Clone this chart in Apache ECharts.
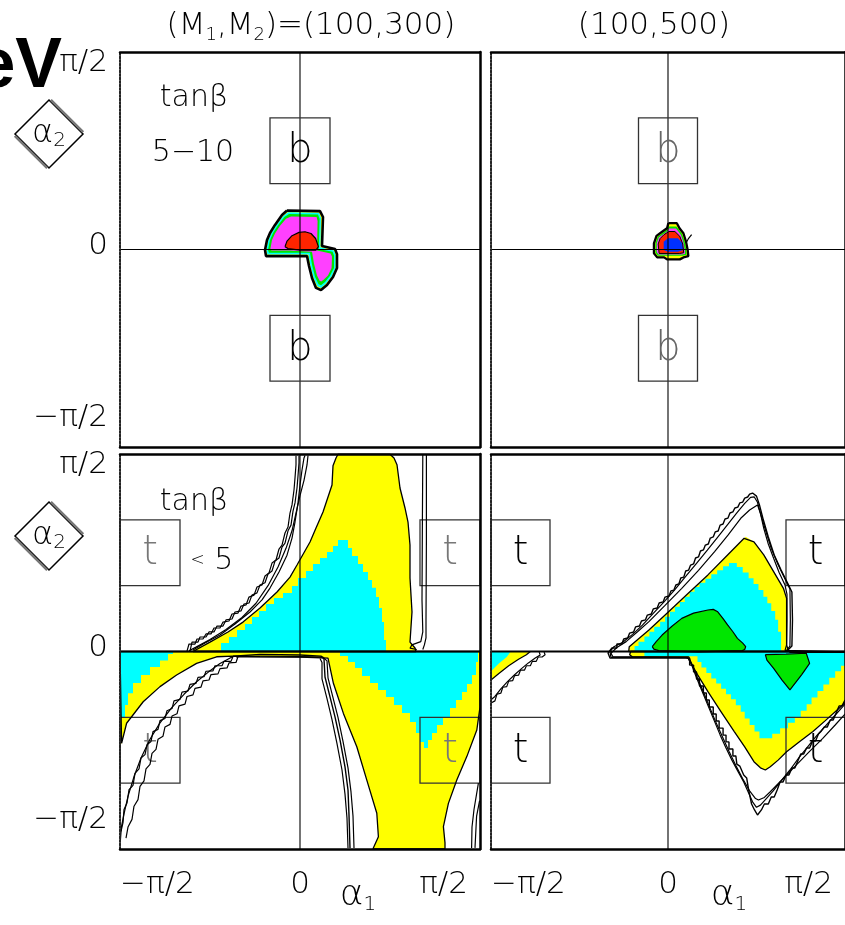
<!DOCTYPE html>
<html>
<head>
<meta charset="utf-8">
<title>Allowed (α1, α2) regions</title>
<script src="https://cdn.jsdelivr.net/npm/echarts@6.0.0/dist/echarts.min.js"></script>
<style>
html, body { margin: 0; padding: 0; background: #fff; }
#chart { width: 845px; height: 925px; }
</style>
</head>
<body>
<div id="chart"></div>
<script>
// Angles are stored in degrees; the axes run from −π/2 to π/2.
const angleTicks = [-90, 0, 90];
const angleTickText = ['−π/2', '0', 'π/2'];

// Panel headings and in-panel notes
const titleLeftParts = ['(M', '1', ',M', '2', ')=(100,300)'];
const titleRight = '(100,500)';
const tanbTop = ['tanβ', '5−10'];
const tanbBottom = ['tanβ', '<', '5'];

// Reference boxes (centres, degrees)
const bBoxCenters = [[0, 45], [0, -45]];
const tBoxCenters = [[-75, 45], [75, 45], [-75, -45], [75, -45]];

// Panel crosshairs
const crossV = [[0, -90], [0, 90]];
const crossH = [[-90, 0], [90, 0]];

// ---------- (100,300), tanβ 5–10 ----------
const tlYellow = [[-6.5,17.8],[10,17.5],[11.5,14.8],[11,1.6],[17.5,0.2],[18.5,-2.1],[18.5,-8.4],[16.5,-12.5],[13.5,-16.2],[10.5,-18.5],[8,-17.5],[6,-13.0],[4.5,-7.5],[3.5,-3.0],[-5,-3.0],[-17,-3.0],[-17.5,-0.2],[-16.5,4.3],[-15,7.5],[-12.5,11.2],[-9,15.7]];
const tlCyan = [[-6,17],[9.5,16.8],[10.5,14.5],[10.2,1],[17,-0.5],[17.8,-2.5],[17.8,-8.4],[15.8,-12.3],[13,-15.5],[10.5,-17.5],[8.7,-16.8],[6.7,-12.7],[5.2,-7.3],[4.2,-2.3],[-5,-2.3],[-16.3,-2.3],[-16.8,-0.2],[-15.8,4.3],[-14.3,7.5],[-11.8,11.2],[-8.4,15.3]];
const tlGreen = [[-5.5,16.2],[9,16],[9.8,14],[9.4,0.2],[16.3,-1],[17,-2.7],[17,-8.4],[15,-12],[12.5,-14.8],[10.5,-16.3],[9.3,-15.8],[7.5,-12.4],[6,-7],[5,-1.5],[-5,-1.5],[-15.5,-1.5],[-16,-0.2],[-15,4.3],[-13.5,7.5],[-11,11],[-7.8,14.8]];
const tlMagenta = [[-4.5,15],[8.3,14.8],[8.8,13],[8.5,-0.5],[15.3,-1.8],[16,-3.2],[15.8,-8.4],[14,-11.8],[11.8,-13.8],[10.6,-14.6],[9.8,-14.2],[8.5,-11.8],[7,-6.5],[6,-1],[-5,-0.5],[-14.3,-0.5],[-14.8,0.3],[-14,4.3],[-12.5,7.3],[-10,10.8],[-7,14]];
const tlRed = [[-7.5,1.3],[-6.5,3.8],[-4,6.3],[-0.5,7.8],[2.5,8.1],[5.5,7.3],[7.8,5],[9.2,1.3],[8,-0.3],[0,-0.3],[-6,0.4]];

// ---------- (100,500), tanβ 5–10 ----------
const trYellow = [[0.2,12],[4.5,12],[5.85,9.7],[7.85,7.4],[9.15,3.6],[10,-0.2],[10.35,-3.0],[7.85,-3.6],[6,-4.5],[-0.5,-4.5],[-2,-3.6],[-5.5,-3.6],[-7.15,-1.7],[-7.15,2.8],[-5.85,6.2],[-3,8.1],[-0.5,9.7]];
const trGreen = [[0.4,10.5],[4.3,10.5],[5.4,9.2],[7.2,7.1],[8.5,3.5],[9.3,-0.2],[9.5,-2.4],[7.5,-2.9],[-5.2,-2.9],[-6.4,-1.4],[-6.4,2.8],[-5.2,5.9],[-2.6,7.6],[-0.3,9.1]];
const trMagenta = [[0.5,9.6],[4,9.6],[5,8.5],[6.6,6.6],[7.8,3.3],[8.5,-0.1],[8.7,-1.9],[7,-2.3],[-4.8,-2.3],[-5.7,-1.1],[-5.7,2.8],[-4.6,5.6],[-2.2,7.1],[0,8.5]];
const trRed = [[0.5,8.2],[3.5,8.2],[6,6],[7.5,2.5],[8,-1.5],[6,-1.8],[-4.5,-1.8],[-5,2.5],[-4,5],[-2,6.8]];
const trBlue = [[-2.2,-0.2],[-2.2,3.5],[0,5.1],[5,5.1],[7.3,3],[7.8,-0.2],[5,-1],[0,-1]];
const trTail = [[9.5,3.5],[10.5,5.1],[12,6.8]];

// ---------- (100,300), tanβ < 5 ----------
const blUpYellow = [[-53.5,0],[-53.5,0.7],[-45,4.3],[-36,8.9],[-28.5,13.4],[-20,19.8],[-11.5,27.1],[-5,33.9],[-1.5,39.4],[5,49.9],[8,56.3],[11.5,63.6],[14,70.4],[16,75.9],[16.5,84.6],[18,88.2],[19,89.9],[45,89.9],[47,88.2],[48.5,85.1],[50,74.5],[52.5,65.4],[54,59.0],[55,48.5],[55,33.5],[56,18.0],[55,4.3],[57.5,1.6],[58,0]];
const blUpCyan = [[-39.5,0],[-39.5,3.9],[-35.5,3.9],[-35.5,6.6],[-31.5,6.6],[-31.5,9.8],[-27.5,9.8],[-27.5,12.5],[-24,12.5],[-24,15.7],[-20.5,15.7],[-20.5,18.5],[-17,18.5],[-17,21.6],[-13,21.6],[-13,24.4],[-8.5,24.4],[-8.5,26.7],[-4,26.7],[-4,29.8],[-1,29.8],[-1,33.5],[3,33.5],[3,36.7],[6.5,36.7],[6.5,39.9],[10,39.9],[10,42.6],[13.5,42.6],[13.5,45.3],[16.5,45.3],[16.5,48.1],[19,48.1],[19,50.8],[24,50.8],[24,47.2],[26,47.2],[26,43.5],[29,43.5],[29,39.9],[31.5,39.9],[31.5,36.2],[34,36.2],[34,32.6],[36,32.6],[36,29.0],[38,29.0],[38,24.8],[39.5,24.8],[39.5,19.8],[41,19.8],[41,13.4],[42,13.4],[42,5.2],[43,5.2],[43,0]];
const blLowYellow = [[-90,0],[90,0],[90,-25.3],[88.4,-35.8],[83.4,-47.9],[78.4,-58.6],[74.2,-69.2],[71.7,-79.8],[72.5,-87.2],[72.5,-89.9],[36.5,-89.9],[39.2,-84.4],[38.4,-73.7],[33.4,-58.6],[28.4,-43.4],[21.7,-28.2],[16.7,-14.5],[14,-3.0],[0,-2.5],[-20,-2.3],[-33.5,-2.1],[-41.7,-2.4],[-51.7,-5.4],[-61.7,-10.7],[-70,-16.0],[-78.4,-22.9],[-86.7,-32.7],[-89.2,-41.8],[-90,-42.6]];
const blLowCyanLeft = [[-90,0],[-63.5,0],[-63.5,-1.1],[-66,-1.1],[-66,-4.1],[-70,-4.1],[-70,-7.1],[-75,-7.1],[-75,-10.7],[-79.5,-10.7],[-79.5,-14.4],[-83.5,-14.4],[-83.5,-19],[-86,-19],[-86,-24.4],[-87.5,-24.4],[-87.5,-30],[-90,-30]];
const blLowCyanRight = [[20,0],[20,-2.1],[24,-2.1],[24,-4.8],[27.5,-4.8],[27.5,-7.5],[31,-7.5],[31,-11.2],[35,-11.2],[35,-14.4],[39,-14.4],[39,-17.5],[43,-17.5],[43,-20.7],[47,-20.7],[47,-24.4],[51,-24.4],[51,-28],[55,-28],[55,-32.1],[58,-32.1],[58,-37.1],[60,-37.1],[60,-41.2],[62,-41.2],[62,-44],[64,-44],[64,-40.3],[66,-40.3],[66,-37.1],[68.5,-37.1],[68.5,-33.5],[71.5,-33.5],[71.5,-29.8],[75,-29.8],[75,-25.7],[78,-25.7],[78,-22.1],[81,-22.1],[81,-18.5],[83.5,-18.5],[83.5,-14.8],[86,-14.8],[86,-10.7],[88,-10.7],[88,-4.8],[89,-4.8],[89,0]];
const blUpStairA = [[-56.5,0.2],[-55.5,3.4],[-52.5,3.4],[-51.5,5.7],[-48.5,5.7],[-47,8.0],[-44.5,8.0],[-43,10.7],[-40,10.7],[-38.5,13.4],[-35.5,13.9],[-34,17.1],[-31,17.5],[-29.5,20.7],[-27,21.2],[-25.5,24.8],[-23,25.7],[-21.5,29.4],[-19,30.3],[-17.5,34.4],[-15.5,35.8],[-14,40.3],[-12,41.7],[-10.5,46.7],[-9,48.5],[-7.5,54.0],[-6,56.7],[-5,63.1],[-4,66.8],[-3,73.6],[-2.5,79.1],[-2,85.1],[-2,89.2]];
const blUpStairB = [[-55,0.2],[-54,4.3],[-51,4.3],[-50,6.6],[-47,6.6],[-45.5,8.9],[-43,8.9],[-41.5,11.6],[-38.5,11.6],[-37,14.4],[-34,14.8],[-32.5,18],[-29.5,18.5],[-28,21.6],[-25.5,22.1],[-24,25.7],[-21.5,26.7],[-20,30.3],[-17.5,31.3],[-16,35.3],[-14,36.7],[-12.5,41.2],[-10.5,42.6],[-9,47.6],[-7.5,49.4],[-6,55],[-4.5,57.6],[-3.5,64],[-2.5,67.7],[-1.5,74.5],[-1,80],[-0.5,86],[-0.5,89.2]];
const blUpSmooth = [[-53.5,0.7],[-47.5,3.9],[-40,7.5],[-32.5,12.5],[-25,18],[-19,23.5],[-15,28.9],[-10.5,36.2],[-6.5,43.9],[-4,51.7],[-2.5,59.0],[-1,67.7],[0,75.9],[1,82.7],[2,88.2],[2.5,89.3]];
const blUpOuter = [[4,89.3],[3.5,85],[2,78],[0,71],[-2,63],[-4,55],[-7,47],[-11,38.5],[-16,30],[-22,22],[-29,15.5],[-37,10],[-45,5.5],[-52,2],[-55.5,0.3]];
const blLowStairA = [[-33.5,-2.3],[-34.5,-4.5],[-38,-4.5],[-39,-6.5],[-42.5,-6.5],[-43.5,-8.8],[-47,-9],[-48,-11.5],[-51,-11.8],[-52,-14.5],[-55,-15],[-56,-18],[-59,-18.5],[-60,-21.8],[-63,-22.5],[-64,-26],[-66.5,-27],[-67.5,-30.5],[-70,-31.5],[-71,-35.5],[-73.5,-36.5],[-74.5,-41],[-76.5,-42.5],[-77.5,-47],[-79.5,-48.5],[-80.5,-53.5],[-82.5,-55.5],[-83.5,-61],[-85.5,-63],[-86.5,-69],[-88,-72],[-88.5,-78],[-89.5,-82]];
const blLowStairB = [[-31,-2.3],[-32,-5],[-35.5,-5.2],[-36.5,-7.5],[-40,-7.8],[-41,-10.2],[-44.5,-10.5],[-45.5,-13],[-48.5,-13.4],[-49.5,-16.2],[-52.5,-16.8],[-53.5,-19.8],[-56.5,-20.5],[-57.5,-24],[-60.5,-24.8],[-61.5,-28.4],[-64,-29.4],[-65,-33.2],[-67.5,-34.4],[-68.5,-38.6],[-71,-40],[-72,-44.6],[-74,-46.4],[-75,-51.4],[-77,-53.5],[-78,-59],[-80,-61.5],[-81,-67.5],[-83,-70.5],[-84,-76.5],[-86,-80],[-87,-85]];
const blLowSmooth = [[-34,-2.5],[-40,-5.5],[-46,-9.5],[-52,-14],[-58,-19.5],[-64,-25.5],[-70,-32.5],[-75,-40],[-79.5,-48.5],[-83,-57],[-86,-66],[-88,-74],[-89.3,-80],[-89.8,-86]];
const blStepA = [[-33.5,-2.1],[-20,-1.4],[0,-1.6],[10.5,-2.1],[12,-3.4],[12.5,-11.6],[15,-20.7],[17.5,-29.8],[20,-40.3],[22.5,-52.6],[24,-63.1],[24.5,-74.5],[25,-89.5]];
const blStepB = [[-32,-2.5],[0,-2.3],[11.5,-2.6],[13.5,-4.3],[14,-12],[16.5,-21],[19,-30],[21.5,-41],[24,-53],[25.5,-64],[26.5,-75],[27,-89.5]];
const blStepC = [[10,-3.2],[11,-5],[11,-12.5],[13.5,-21.5],[16,-31],[18.5,-42],[21,-54],[22.5,-65],[23.5,-76],[24,-89.5]];
const blVertA = [[61.4,89.5],[61.2,59.9],[61,23.5],[61.4,8.9],[60.4,4.5],[55.9,3.0],[55,1.5],[58.4,0.9]];
const blVertB = [[63.2,89.5],[63.2,50.8],[63,14.4],[63,6.2],[62.2,3.0],[61.4,0.9]];
const blEdgeA = [[89.2,-60],[87,-72],[86,-80],[85.8,-89.5]];
const blEdgeB = [[89.8,-68],[88.3,-75],[87.5,-89.5]];

// ---------- (100,500), tanβ < 5 ----------
const brUpYellow = [[-20,0],[-19.7,2.2],[-18.8,3.0],[-9.7,9.8],[0.3,18.1],[10.3,26.5],[20.3,34.9],[30.3,44.0],[38.7,51.6],[39.5,52.3],[43.7,50.0],[48.7,44.0],[53.7,36.4],[58.7,28.8],[60.3,24.2],[60.3,3.0],[61,1.1],[61.5,0]];
const brUpCyan = [[-17,0],[-17,2.5],[-15,2.5],[-15,4.5],[-12,4.5],[-12,6.8],[-9.5,6.8],[-9.5,9],[-7,9],[-7,11.3],[-4,11.3],[-4,13.6],[-1.5,13.6],[-1.5,15.8],[1,15.8],[1,18.1],[3.5,18.1],[3.5,20.4],[6,20.4],[6,22.6],[8.5,22.6],[8.5,24.9],[11,24.9],[11,27.2],[13.5,27.2],[13.5,29.4],[16,29.4],[16,31.3],[19,31.3],[19,33.2],[22,33.2],[22,35.2],[25,35.2],[25,37],[28,37],[28,38.8],[31,38.8],[31,40.3],[35,40.3],[35,38.5],[38,38.5],[38,36],[41,36],[41,33.4],[43.5,33.4],[43.5,30.8],[46,30.8],[46,28],[48.5,28],[48.5,25],[50.5,25],[50.5,22],[52.5,22],[52.5,18.5],[54.5,18.5],[54.5,14.5],[56,14.5],[56,9],[57.5,9],[57.5,0]];
const brUpGreen = [[-8,2.2],[-6,4.5],[-3,7.5],[2,11.5],[7,15.1],[13,17.5],[20.3,18.9],[23,19.2],[25.3,18.1],[28,15],[30.3,12.1],[33,9],[35.3,6.0],[38,3.8],[39.5,2.2],[39,0.9],[37.8,0.4],[15.3,-0.2],[-4.7,0.4],[-7.2,1.1]];
const brLowYellow = [[-19,0],[-19.5,-1.5],[-18,-2.5],[9,-2.8],[10.3,-3.1],[15,-10.5],[20.3,-18.3],[27,-27.5],[33.7,-36.5],[39,-43.5],[43.7,-50.2],[47,-53],[49.5,-54.0],[52,-52.5],[56,-49.5],[60.3,-45.7],[67,-41],[73.7,-36.5],[80,-31.5],[87,-25.9],[92,-21.5],[92,0]];
const brLowCyan = [[-12,0],[-12,-2.2],[15,-2.2],[15,-4.8],[17,-4.8],[17,-7.3],[19.5,-7.3],[19.5,-9.8],[22,-9.8],[22,-12.3],[24.5,-12.3],[24.5,-14.6],[27,-14.6],[27,-17],[29.5,-17],[29.5,-19.5],[32,-19.5],[32,-21.8],[34.5,-21.8],[34.5,-24.5],[37,-24.5],[37,-27.5],[39,-27.5],[39,-30.5],[41.5,-30.5],[41.5,-33.5],[44,-33.5],[44,-36.5],[46.5,-36.5],[46.5,-39.5],[53,-39.5],[53,-37.5],[57,-37.5],[57,-35],[61,-35],[61,-32.5],[64.5,-32.5],[64.5,-30],[67.5,-30],[67.5,-27],[70.5,-27],[70.5,-24],[73,-24],[73,-21],[76,-21],[76,-18],[79,-18],[79,-15],[82,-15],[82,-12],[85,-12],[85,-9],[88,-9],[88,-6.5],[91,-6.5],[91,0]];
const brLowGreen = [[49.5,-1.4],[60,-1.2],[70.3,-0.8],[72,-5.4],[68,-10.5],[62,-17.5],[58,-13],[53.7,-7.7],[50.3,-3.9]];
const brCornerYellow = [[-90,0],[-70,0],[-72,-1.5],[-76,-3.5],[-81,-6.5],[-86,-10],[-90,-13]];
const brCornerCyan = [[-90,0],[-80,0],[-82,-2.5],[-86,-5.5],[-90,-9]];
const brCornerStair = [[-63,-0.3],[-62.5,-1.5],[-64,-2.5],[-66,-2.5],[-67,-4.5],[-69,-4.5],[-70,-6.5],[-72,-6.5],[-73,-8.5],[-75,-8.5],[-76,-10.8],[-78,-11],[-79,-13.3],[-81,-13.5],[-82,-16],[-84,-16.3],[-85,-19],[-87,-19.5],[-88,-22.5],[-90,-23.5]];
const brCornerSmooth = [[-65.5,-0.3],[-65,-1.6],[-67.5,-3],[-71,-5.2],[-74.5,-7.8],[-78,-10.6],[-81.5,-13.6],[-85,-17],[-88,-20.5],[-90,-22]];
const brOuterA = [[90,-22.1],[88.5,-24.8],[87,-24.8],[85.5,-28.0],[84,-31.2],[82.5,-31.2],[81,-34.4],[79.5,-34.4],[78,-36.2],[76.5,-37.6],[75,-40.8],[73.5,-40.8],[72,-44.0],[70.5,-44.0],[69,-46.7],[67.5,-46.7],[66,-49.9],[64.5,-53.1],[63,-53.1],[61.5,-56.3],[60,-56.3],[58.5,-59.5],[57,-59.5],[55.5,-63.1],[54,-66.3],[52.5,-66.3],[51,-69.5],[49,-69.5],[47.5,-72.2],[45.5,-74.5],
  [44,-72.2],[42.5,-69.5],[41,-63.1],[40,-57.6],[38.5,-56.3],[36.5,-52.2],[35,-51.3],[34.5,-47.6],[33,-47.6],[33,-44.4],[31,-44.4],[31,-41.2],[29.5,-41.2],[29.5,-38.1],[28,-38.1],[28,-34.9],[26,-34.9],[26,-31.7],[24.5,-31.7],[24.5,-28.5],[23,-28.5],[23,-25.3],[21,-25.3],[21,-22.1],[19.5,-22.1],[19.5,-18.9],[18,-18.9],[18,-15.7],[16,-15.7],[16,-12.5],[14.5,-12.5],[14.5,-9.3],[13,-9.3],[13,-6.2],[11,-6.2],[11,-3.0],[9.5,-3.0],
  [-29.5,-3.0],[-30.5,-0.7],
  [-28.5,1.6],[-26,1.6],[-26,3.4],[-23.5,3.4],[-22.5,5.7],[-20.5,6.2],[-19.5,8.4],[-17.5,8.9],[-16.5,11.2],[-14.5,11.6],[-13.5,13.9],[-11.5,14.4],[-10.5,16.6],[-8.5,17.1],[-7.5,19.4],[-5.5,19.8],[-4.5,22.1],[-2.5,22.6],[-1.5,24.8],[0.5,25.3],[1.5,27.6],[3,28.0],[4,30.3],[5.5,30.8],[6.5,33.5],[8,33.9],[9,36.7],[10.5,37.1],[11.5,39.4],[13,39.9],[14,42.6],[15.5,43.1],[16.5,45.8],[18,46.3],[19,48.5],[20.5,49.0],[21.5,51.7],[23,52.2],[24,54.5],[25.5,54.9],[26.5,57.6],[28,58.1],[29,60.4],[30.5,60.8],[31.5,63.1],[33,63.6],[34,65.4],[35.5,65.8],[36.5,67.7],[38,68.1],[39,69.9],[40.5,70.4],[41.5,71.7],[43,72.2],
  [45,70.8],[46.5,66.8],[48.5,59.9],[51,52.2],[54,44.0],[57.5,37.1],[61,30.8],[63,27.1],[63.3,14.4],[63,2.5],[61,0.7],[62,-0.4],[90,-0.4]];
const brOuterB = [[91,-27.5],[85,-33.5],[78.7,-39.6],[72,-45.5],[65.3,-51.7],[58.5,-58],[52,-63.9],[49,-66.5],[46,-67.7],[44.5,-67],[41.5,-63.5],[38,-58],[34.5,-52],[31,-45.5],[27.5,-38.5],[24,-31.5],[21,-25],[18,-18.5],[15,-12],[12.5,-6.5],[10.5,-2.4],[-28,-2.4],[-29,-0.8],[-26,1.8],[-21.3,4.5],[-15.5,9],[-9.7,13.6],[-1.5,21],[7,28.8],[15.5,37],[23.7,45.5],[30.5,53],[37,60.7],[41.5,64.5],[45.5,66.8],[47,63],[48.7,56.1],[51,49],[53.7,42.5],[56.5,36],[59.5,30.3],[60.5,26],[60.5,14],[60.3,3],[59.5,0.5],[60,-0.2],[90,-0.2]];
const brOuterC = [[92,-22],[89,-25],[84.5,-29.5],[80,-34],[75.5,-38.5],[71,-43.5],[66.5,-48.5],[62,-54],[57.5,-59],[53.5,-63.5],[50,-67],[47,-70],[45,-71],[43,-68.5],[41,-64.5],[38.5,-59.5],[35.5,-54.5],[32.5,-49.5],[29.5,-44],[26.5,-38],[23.5,-31.5],[20.5,-25],[17.5,-18.5],[14.5,-12],[12,-6],[10,-2.7],[-29,-2.7],[-29.5,0],[-27.5,2.2],[-23,4.2],[-18,7.8],[-13,12],[-7.5,17.4],[-2,22.6],[3.5,28.2],[9,34.2],[14.5,40.2],[20,46.2],[25.5,52.4],[30.5,58],[35,63.2],[39,67.5],[42,70.2],[43.8,70.5],[45.5,68],[47,63],[49.5,55.5],[52.5,47],[56,39.5],[59.5,33],[62,28.5],[62.2,14.4],[62,2.5],[60,0.2]];

// ---------- drawing ----------
const FILL = { yellow: '#ffff00', cyan: '#00ffff', green: '#00e600', magenta: '#ff40ff', red: '#ff2400', blue: '#0030ff' };
const FONT = "'DejaVu Sans', sans-serif";
const BOX_HALF = 15;

function region(g, pts, color) {
  return {
    type: 'custom', xAxisIndex: 2 * g, yAxisIndex: 2 * g, data: pts, z: 2, silent: true, clip: true,
    renderItem: function (params, api) {
      if (params.dataIndex !== 0) return null;
      return { type: 'polygon', shape: { points: pts.map(function (p) { return api.coord(p); }) }, style: { fill: color } };
    }
  };
}
function curve(g, pts, width, z) {
  return {
    type: 'line', xAxisIndex: 2 * g, yAxisIndex: 2 * g, data: pts, symbol: 'none', silent: true, clip: true,
    z: z || 5, lineStyle: { color: '#000', width: width || 1.2 }
  };
}
function outline(g, pts, width) {
  return curve(g, pts.concat([pts[0]]), width, 5);
}
function boxes(g, centers, letter, color) {
  return {
    type: 'custom', xAxisIndex: 2 * g, yAxisIndex: 2 * g, data: centers, z: 4, silent: true,
    renderItem: function (params, api) {
      const cx = api.value(0), cy = api.value(1);
      const p0 = api.coord([cx - BOX_HALF, cy + BOX_HALF]);
      const p1 = api.coord([cx + BOX_HALF, cy - BOX_HALF]);
      return {
        type: 'group', children: [
          { type: 'rect', shape: { x: p0[0], y: p0[1], width: p1[0] - p0[0], height: p1[1] - p0[1] },
            style: { fill: 'none', stroke: '#333', lineWidth: 1.3 } },
          { type: 'text', style: { text: letter, x: (p0[0] + p1[0]) / 2, y: (p0[1] + p1[1]) / 2 + 1,
            align: 'center', verticalAlign: 'middle', fontSize: 40, fontWeight: 200, fontFamily: FONT, fill: color } }
        ]
      };
    }
  };
}

const grids = [
  { left: 120, top: 52, width: 360, height: 395 },
  { left: 491, top: 52, width: 360, height: 395 },
  { left: 120, top: 454, width: 360, height: 395 },
  { left: 491, top: 454, width: 360, height: 395 }
];

const tickStyle = { fontSize: 31, fontFamily: FONT, fontWeight: 200, color: '#000' };
const xAxes = [], yAxes = [];
grids.forEach(function (gr, g) {
  const bottomRow = g >= 2, leftCol = g % 2 === 0;
  xAxes.push({
    gridIndex: g, type: 'value', min: -90, max: 90, interval: 90, position: 'bottom', z: 10,
    axisLine: { onZero: false, lineStyle: { color: '#000', width: 2.5 } },
    axisTick: { show: false }, splitLine: { show: false },
    axisLabel: bottomRow ? {
      show: true, margin: 20, alignMinLabel: 'left', alignMaxLabel: 'right',
      formatter: function (v) {
        const t = angleTickText[angleTicks.indexOf(v)];
        return v === 90 ? '{r|' + t + '}' : '{n|' + t + '}';
      },
      rich: { n: tickStyle, r: Object.assign({ padding: [0, 12, 0, 0] }, tickStyle) }
    } : { show: false }
  });
  xAxes.push({
    gridIndex: g, type: 'value', min: -90, max: 90, interval: 90, position: 'top', z: 10,
    axisLine: { onZero: false, lineStyle: { color: '#000', width: 2.5 } },
    axisTick: { show: false }, splitLine: { show: false }, axisLabel: { show: false }
  });
  yAxes.push({
    gridIndex: g, type: 'value', min: -90, max: 90, interval: 90, position: 'left', z: 10,
    axisLine: { onZero: false, lineStyle: { color: '#222', width: 2, type: [2, 1.5] } },
    axisTick: { show: false }, splitLine: { show: false },
    axisLabel: leftCol ? {
      show: true, margin: 12,
      formatter: function (v) {
        const t = angleTickText[angleTicks.indexOf(v)];
        return v === 90 ? '{hi|' + t + '}' : (v === -90 ? '{lo|' + t + '}' : '{mid|' + t + '}');
      },
      rich: {
        hi: Object.assign({ padding: [22, 0, 0, 0] }, tickStyle),
        lo: Object.assign({ padding: [0, 0, 58, 0] }, tickStyle),
        mid: Object.assign({ padding: [0, 0, 8, 0] }, tickStyle)
      }
    } : { show: false }
  });
  yAxes.push({
    gridIndex: g, type: 'value', min: -90, max: 90, interval: 90, position: 'right', z: 10,
    axisLine: { onZero: false, lineStyle: { color: '#000', width: 2.5 } },
    axisTick: { show: false }, splitLine: { show: false }, axisLabel: { show: false }
  });
});

const series = [];
// filled regions
series.push(region(0, tlYellow, FILL.yellow), region(0, tlCyan, FILL.cyan), region(0, tlGreen, FILL.green),
  region(0, tlMagenta, FILL.magenta), region(0, tlRed, FILL.red));
series.push(region(1, trYellow, FILL.yellow), region(1, trGreen, FILL.green), region(1, trMagenta, FILL.magenta),
  region(1, trRed, FILL.red), region(1, trBlue, FILL.blue));
series.push(region(2, blUpYellow, FILL.yellow), region(2, blLowYellow, FILL.yellow), region(2, blUpCyan, FILL.cyan),
  region(2, blLowCyanLeft, FILL.cyan), region(2, blLowCyanRight, FILL.cyan));
series.push(region(3, brUpYellow, FILL.yellow), region(3, brLowYellow, FILL.yellow), region(3, brCornerYellow, FILL.yellow),
  region(3, brUpCyan, FILL.cyan), region(3, brLowCyan, FILL.cyan), region(3, brCornerCyan, FILL.cyan),
  region(3, brUpGreen, FILL.green), region(3, brLowGreen, FILL.green));
// crosshairs
for (let g = 0; g < 4; g++) {
  series.push(curve(g, crossV, 1.1, 3), curve(g, crossH, g >= 2 ? 1.8 : 1.1, 3));
}
// reference boxes
series.push(boxes(0, bBoxCenters, 'b', '#000'), boxes(1, bBoxCenters, 'b', '#666'),
  boxes(2, tBoxCenters, 't', '#777'), boxes(3, tBoxCenters, 't', '#000'));
// contour lines
series.push(outline(0, tlYellow, 2.6), outline(0, tlRed, 1.2));
series.push(outline(1, trYellow, 2.3), outline(1, trRed, 1.0), curve(1, trTail, 1.2));
series.push(outline(2, blUpYellow, 1.3), outline(2, blLowYellow, 1.3),
  curve(2, blUpStairA), curve(2, blUpStairB), curve(2, blUpSmooth), curve(2, blUpOuter),
  curve(2, blLowStairA), curve(2, blLowStairB), curve(2, blLowSmooth),
  curve(2, blStepA, 1.4), curve(2, blStepB), curve(2, blStepC),
  curve(2, blVertA), curve(2, blVertB), curve(2, blEdgeA), curve(2, blEdgeB));
series.push(outline(3, brUpYellow, 1.3), outline(3, brLowYellow, 1.3), outline(3, brCornerYellow, 1.2),
  outline(3, brUpGreen, 1.2), outline(3, brLowGreen, 1.2),
  curve(3, brOuterA, 1.4), curve(3, brOuterB), curve(3, brOuterC),
  curve(3, brCornerStair), curve(3, brCornerSmooth));

// headings, notes and axis names
const txt = function (x, y, text, size, extra) {
  return Object.assign({ type: 'text', x: x, y: y, z: 100,
    style: Object.assign({ text: text, fontSize: size, fontFamily: FONT, fontWeight: 200, fill: '#000',
      align: 'center', verticalAlign: 'middle' }, extra || {}) });
};
const subRich = {
  n: { fontSize: 31, fontFamily: FONT, fontWeight: 200, lineHeight: 36 },
  s: { fontSize: 18, fontFamily: FONT, fontWeight: 200, verticalAlign: 'bottom' }
};
function diamond(cx, cy) {
  const r = 34;
  return {
    type: 'group', z: 100, children: [
      { type: 'polygon', shape: { points: [[cx, cy - r], [cx + r, cy], [cx, cy + r], [cx - r, cy]] },
        style: { fill: '#fff', stroke: '#000', lineWidth: 1.5 } },
      { type: 'polyline', shape: { points: [[cx + 1.8, cy - r - 0.2], [cx + r + 0.2, cy - 1.8]] }, style: { stroke: '#777', lineWidth: 2.6 } },
      { type: 'polyline', shape: { points: [[cx - r - 0.2, cy + 1.8], [cx - 1.8, cy + r + 0.2]] }, style: { stroke: '#777', lineWidth: 2.6 } },
      { type: 'text', x: cx, y: cy, style: { text: '{a|α}{s|2}', align: 'center', verticalAlign: 'middle',
        rich: { a: { fontSize: 32, fontFamily: FONT, fontWeight: 200, lineHeight: 34 },
                s: { fontSize: 20, fontFamily: FONT, fontWeight: 200, verticalAlign: 'bottom' } } } }
    ]
  };
}
const graphics = [
  txt(311, 26, '{n|' + titleLeftParts[0] + '}{s|' + titleLeftParts[1] + '}{n|' + titleLeftParts[2] + '}{s|' +
      titleLeftParts[3] + '}{n|' + titleLeftParts[4] + '}', 31, { rich: subRich }),
  txt(654, 26, titleRight, 31),
  txt(194, 98, tanbTop[0], 30), txt(193, 153, tanbTop[1], 30),
  txt(194, 502, tanbBottom[0], 30),
  txt(212, 561, '{l|' + tanbBottom[1] + '} {n|' + tanbBottom[2] + '}', 30, {
    rich: { l: { fontSize: 17, fontFamily: FONT, fontWeight: 200 }, n: { fontSize: 30, fontFamily: FONT, fontWeight: 200 } } }),
  diamond(49, 134), diamond(49, 536),
  txt(358, 896, '{a|α}{s|1}', 34, { rich: {
    a: { fontSize: 36, fontFamily: FONT, fontWeight: 200, lineHeight: 38 },
    s: { fontSize: 20, fontFamily: FONT, fontWeight: 200, verticalAlign: 'bottom' } } }),
  txt(729, 896, '{a|α}{s|1}', 34, { rich: {
    a: { fontSize: 36, fontFamily: FONT, fontWeight: 200, lineHeight: 38 },
    s: { fontSize: 20, fontFamily: FONT, fontWeight: 200, verticalAlign: 'bottom' } } }),
  { type: 'text', x: 62, y: 68, z: 120, style: { text: 'eV', align: 'right', verticalAlign: 'middle',
    font: "bold 70px 'Liberation Sans Narrow', 'Liberation Sans', sans-serif", fill: '#000' } }
];

const chart = echarts.init(document.getElementById('chart'), null, { renderer: 'canvas' });
chart.setOption({
  animation: false,
  backgroundColor: '#fff',
  grid: grids,
  xAxis: xAxes,
  yAxis: yAxes,
  series: series,
  graphic: graphics
});
</script>
</body>
</html>
